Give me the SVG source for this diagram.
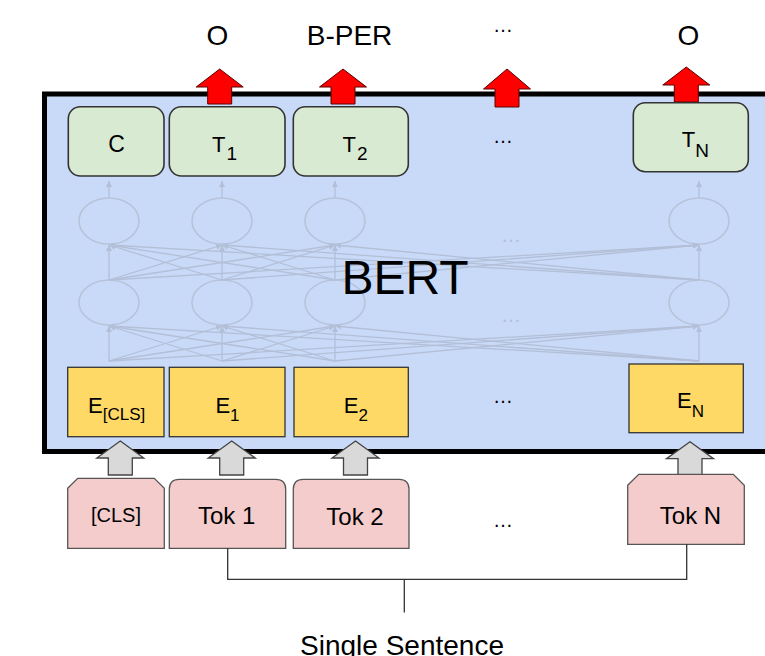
<svg xmlns="http://www.w3.org/2000/svg" width="765" height="656" viewBox="0 0 765 656">
<defs>
<style>
text{font-family:"Liberation Sans",Arial,sans-serif;fill:#000}
.lbl{font-size:28px;text-anchor:middle}
.tg{fill:#d9ead3;stroke:#333;stroke-width:1.6}
.ey{fill:#ffd966;stroke:#333;stroke-width:1.3}
.tk{fill:#f4cccc;stroke:#555;stroke-width:1.3}
.ra{fill:#ff0000;stroke:#5a0000;stroke-width:1}
.ga{fill:#d9d9d9;stroke:#434343;stroke-width:1.3}
.nl{stroke:#b3bfd7;stroke-width:1.3;fill:none;marker-end:url(#nh)}
.ne{stroke:#b7c3da;stroke-width:1.6;fill:none}
.dots{font-size:20px;text-anchor:middle}
.fdots{font-size:20px;text-anchor:middle;fill:#b3bfd7}
.ct{font-size:22px;text-anchor:middle}
.sub{font-size:19px}
.esub{font-size:17px}
.tok{font-size:24px;text-anchor:middle}
.con{stroke:#333;stroke-width:1.3;fill:none}
</style>
<marker id="nh" viewBox="0 0 10 10" refX="10" refY="5" markerWidth="6" markerHeight="6" markerUnits="userSpaceOnUse" orient="auto">
<path d="M0,0 L10,5 L0,10 Z" fill="#b3bfd7"/>
</marker>
<path id="redArrow" class="ra" d="M0,0 L23.5,18 L12,18 L12,35 L-12,35 L-12,18 L-23.5,18 Z"/>
<path id="grayArrow" class="ga" d="M0,0 L23.5,17 L12,17 L12,34 L-12,34 L-12,17 L-23.5,17 Z"/>
</defs>
<rect width="765" height="656" fill="#fff"/>

<g id="bert">
<rect x="44.5" y="94" width="730" height="357.5" fill="#c9daf8" stroke="#000" stroke-width="5"/>
</g>

<g id="network">
<ellipse class="ne" cx="109" cy="221" rx="30" ry="23"/>
<ellipse class="ne" cx="222" cy="221" rx="30" ry="23"/>
<ellipse class="ne" cx="335" cy="221" rx="30" ry="23"/>
<ellipse class="ne" cx="699" cy="221" rx="30" ry="23"/>
<ellipse class="ne" cx="109" cy="302.5" rx="30" ry="22.5"/>
<ellipse class="ne" cx="222" cy="302.5" rx="30" ry="22.5"/>
<ellipse class="ne" cx="335" cy="302.5" rx="30" ry="22.5"/>
<ellipse class="ne" cx="699" cy="302.5" rx="30" ry="22.5"/>
<line class="nl" x1="109" y1="198" x2="109" y2="181"/>
<line class="nl" x1="222" y1="198" x2="222" y2="181"/>
<line class="nl" x1="335" y1="198" x2="335" y2="181"/>
<line class="nl" x1="699" y1="198" x2="699" y2="181"/>
<line class="nl" x1="109" y1="280" x2="109" y2="245"/>
<line class="nl" x1="109" y1="280" x2="222" y2="245"/>
<line class="nl" x1="109" y1="280" x2="335" y2="245"/>
<line class="nl" x1="109" y1="280" x2="699" y2="245"/>
<line class="nl" x1="222" y1="280" x2="109" y2="245"/>
<line class="nl" x1="222" y1="280" x2="222" y2="245"/>
<line class="nl" x1="222" y1="280" x2="335" y2="245"/>
<line class="nl" x1="222" y1="280" x2="699" y2="245"/>
<line class="nl" x1="335" y1="280" x2="109" y2="245"/>
<line class="nl" x1="335" y1="280" x2="222" y2="245"/>
<line class="nl" x1="335" y1="280" x2="335" y2="245"/>
<line class="nl" x1="335" y1="280" x2="699" y2="245"/>
<line class="nl" x1="699" y1="280" x2="109" y2="245"/>
<line class="nl" x1="699" y1="280" x2="222" y2="245"/>
<line class="nl" x1="699" y1="280" x2="335" y2="245"/>
<line class="nl" x1="699" y1="280" x2="699" y2="245"/>
<line class="nl" x1="109" y1="361" x2="109" y2="326"/>
<line class="nl" x1="109" y1="361" x2="222" y2="326"/>
<line class="nl" x1="109" y1="361" x2="335" y2="326"/>
<line class="nl" x1="109" y1="361" x2="699" y2="326"/>
<line class="nl" x1="222" y1="361" x2="109" y2="326"/>
<line class="nl" x1="222" y1="361" x2="222" y2="326"/>
<line class="nl" x1="222" y1="361" x2="335" y2="326"/>
<line class="nl" x1="222" y1="361" x2="699" y2="326"/>
<line class="nl" x1="335" y1="361" x2="109" y2="326"/>
<line class="nl" x1="335" y1="361" x2="222" y2="326"/>
<line class="nl" x1="335" y1="361" x2="335" y2="326"/>
<line class="nl" x1="335" y1="361" x2="699" y2="326"/>
<line class="nl" x1="699" y1="361" x2="109" y2="326"/>
<line class="nl" x1="699" y1="361" x2="222" y2="326"/>
<line class="nl" x1="699" y1="361" x2="335" y2="326"/>
<line class="nl" x1="699" y1="361" x2="699" y2="326"/>
<text class="fdots" x="511" y="241.5">…</text>
<text class="fdots" x="511" y="321.5">…</text>
</g>

<text x="405" y="294" font-size="48" text-anchor="middle">BERT</text>

<g id="outputs">
<use href="#redArrow" x="219.7" y="69"/>
<use href="#redArrow" x="343" y="69"/>
<path class="ra" d="M507,69 L530.5,89 L519,89 L519,107 L495,107 L495,89 L483.5,89 Z"/>
<use href="#redArrow" x="686.3" y="67"/>
<text class="lbl" x="217.5" y="45">O</text>
<text class="lbl" x="349.5" y="45">B-PER</text>
<text class="dots" x="503" y="31.5">…</text>
<text class="lbl" x="688.3" y="45">O</text>
</g>

<g id="node-C">
<rect class="tg" x="68.3" y="106.7" width="95.7" height="69.3" rx="12"/>
<text x="116.5" y="151.5" font-size="23" text-anchor="middle">C</text>
</g>
<g id="node-T1">
<rect class="tg" x="169.3" y="106.7" width="115.7" height="69.3" rx="12"/>
<text class="ct" x="224.5" y="151.7">T<tspan class="sub" dx="1" dy="8.3">1</tspan></text>
</g>
<g id="node-T2">
<rect class="tg" x="293.3" y="106.7" width="115" height="69.3" rx="12"/>
<text class="ct" x="355" y="151.7">T<tspan class="sub" dx="1" dy="8.3">2</tspan></text>
</g>
<text class="dots" x="503" y="143">…</text>
<g id="node-TN">
<rect class="tg" x="633.3" y="102.7" width="115" height="69" rx="12"/>
<text class="ct" x="695.3" y="147.3">T<tspan class="sub" dx="0" dy="9.4">N</tspan></text>
</g>

<g id="node-ECLS">
<rect class="ey" x="67.7" y="367.3" width="96.3" height="69.4"/>
<text class="ct" x="116.7" y="412.7">E<tspan class="esub" dy="7.5">[CLS]</tspan></text>
</g>
<g id="node-E1">
<rect class="ey" x="169.3" y="367.3" width="115.7" height="69.4"/>
<text class="ct" x="227.5" y="412.7">E<tspan class="esub" dy="8">1</tspan></text>
</g>
<g id="node-E2">
<rect class="ey" x="294" y="367.3" width="114.3" height="69.4"/>
<text class="ct" x="355.8" y="412.7">E<tspan class="esub" dy="8">2</tspan></text>
</g>
<text class="dots" x="503" y="403">…</text>
<g id="node-EN">
<rect class="ey" x="629" y="364" width="114.3" height="68.7"/>
<text class="ct" x="690.5" y="408.3">E<tspan class="esub" dy="8.4">N</tspan></text>
</g>

<g id="inputs">
<use href="#grayArrow" x="120.3" y="441"/>
<use href="#grayArrow" x="231.7" y="441"/>
<use href="#grayArrow" x="355.5" y="441"/>
<use href="#grayArrow" x="690" y="441.7"/>
</g>

<g id="node-TokCLS">
<path class="tk" d="M67.7,488.3 L77.7,478.3 L154.3,478.3 L164.3,488.3 L164.3,548.3 L67.7,548.3 Z"/>
<text x="116" y="522" font-size="20" text-anchor="middle">[CLS]</text>
</g>
<g id="node-Tok1">
<path class="tk" d="M169.3,548.3 L169.3,489.3 Q169.3,479.3 179.3,479.3 L275.7,479.3 Q285.7,479.3 285.7,489.3 L285.7,548.3 Z"/>
<text class="tok" x="226.7" y="524">Tok 1</text>
</g>
<g id="node-Tok2">
<path class="tk" d="M293.3,548.3 L293.3,489.3 Q293.3,479.3 303.3,479.3 L399,479.3 Q409,479.3 409,489.3 L409,548.3 Z"/>
<text class="tok" x="355" y="525">Tok 2</text>
</g>
<text class="dots" x="503" y="526.5">…</text>
<g id="node-TokN">
<path class="tk" d="M627.7,485.3 L638.7,474.3 L733.3,474.3 L744.3,485.3 L744.3,544.3 L627.7,544.3 Z"/>
<text class="tok" x="690.5" y="524">Tok N</text>
</g>

<g id="connectors">
<path class="con" d="M227.7,548.3 V579.3 H686.7 V544.3"/>
<path class="con" d="M404.3,579.3 V612.5"/>
</g>

<g id="node-sentence">
<text x="402" y="655" font-size="28" text-anchor="middle">Single Sentence</text>
</g>
</svg>
